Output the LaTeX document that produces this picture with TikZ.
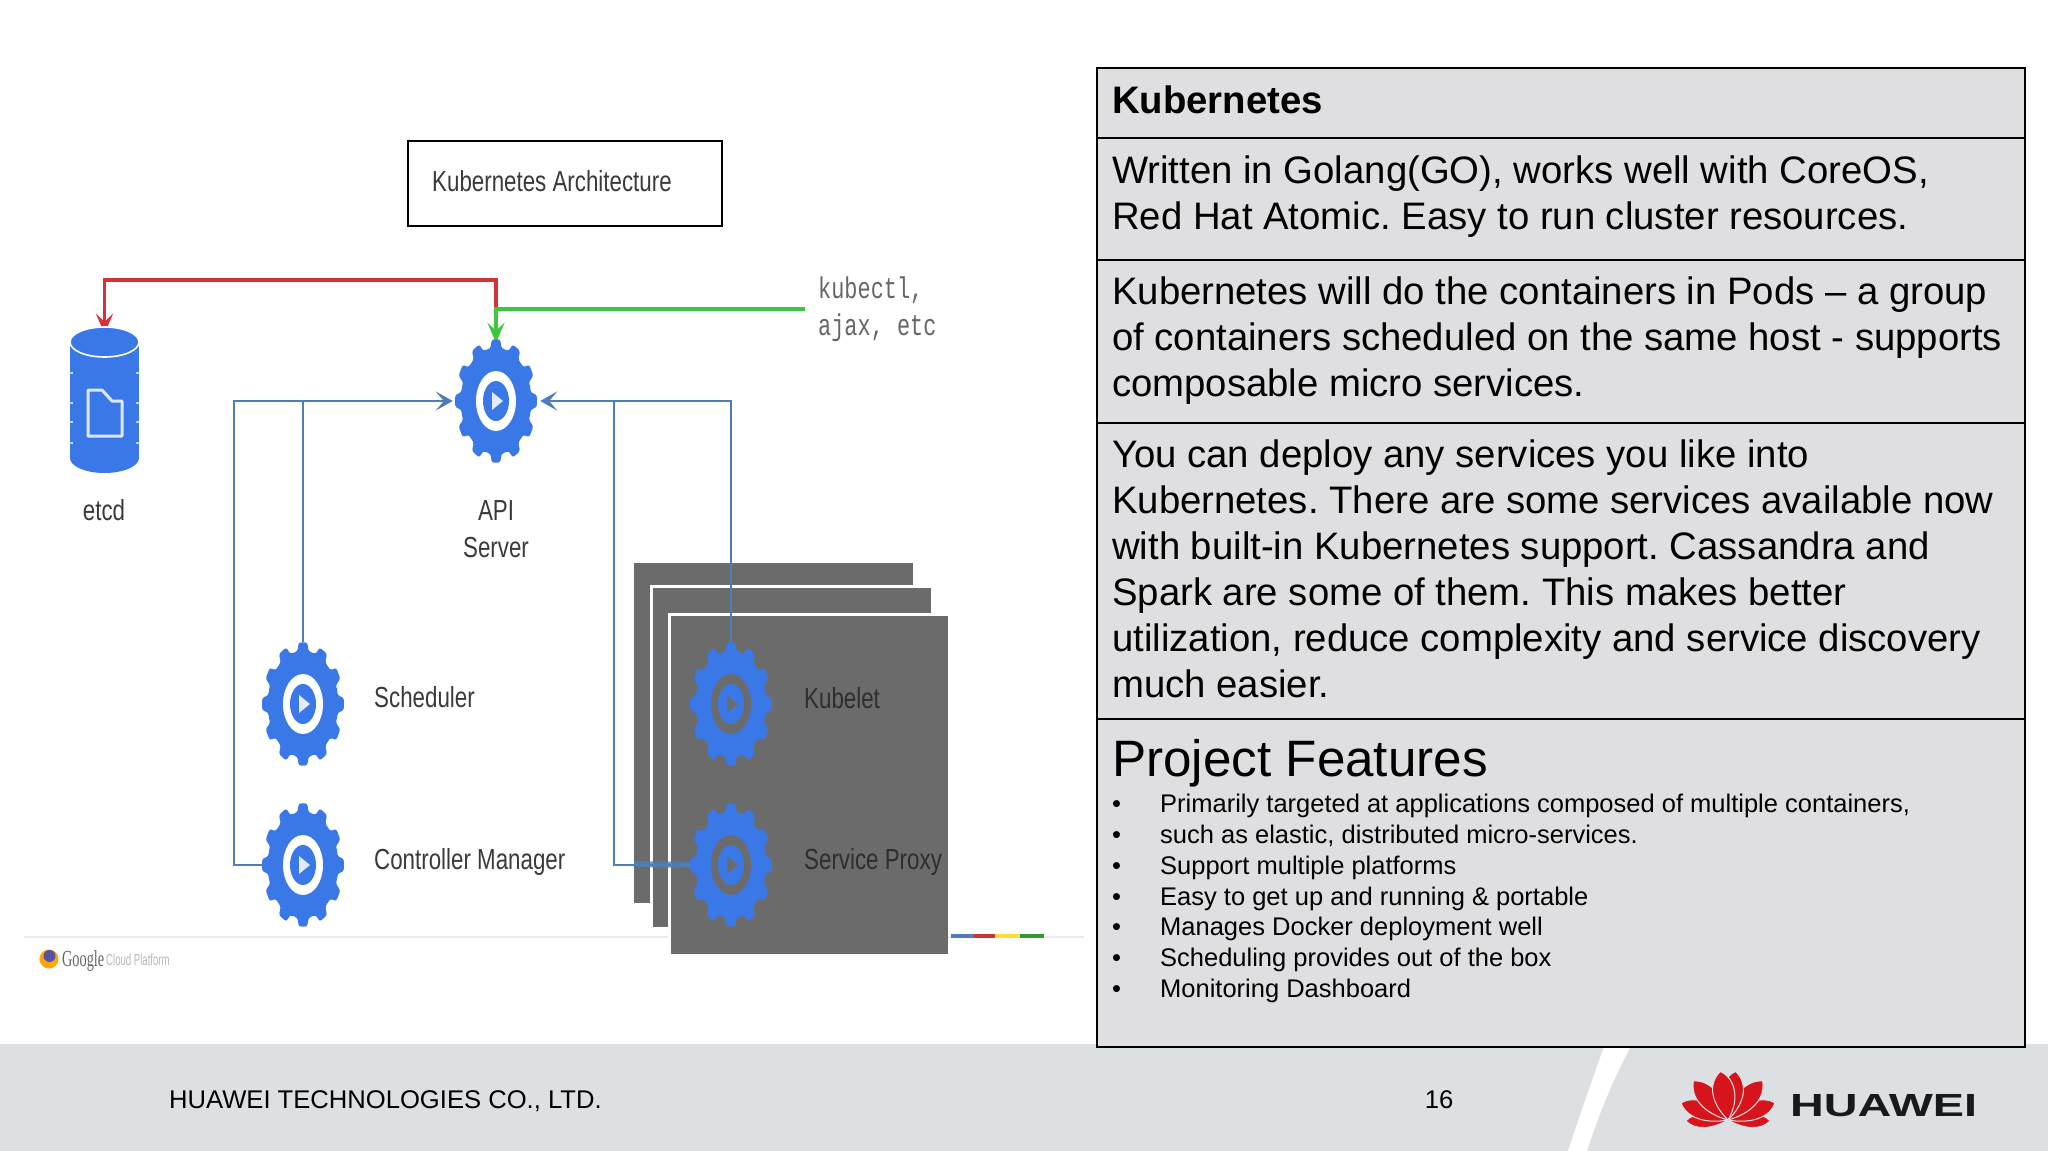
\documentclass[tikz,border=0pt]{standalone}
\usepackage{fontspec}
\usetikzlibrary{arrows.meta}
\setmainfont{Liberation Sans}
\newfontfamily\condfont[FakeStretch=0.77]{Liberation Sans}
\newfontfamily\monocond[FakeStretch=0.73]{Liberation Mono}
\newfontfamily\gserif[FakeStretch=0.62]{Liberation Serif}
\newfontfamily\gcond[FakeStretch=0.6]{Liberation Sans}
\newfontfamily\logofont[FakeStretch=1.46]{Liberation Sans}
\definecolor{gearblue}{HTML}{3B78E7}
\definecolor{linkblue}{HTML}{4E7DB8}
\definecolor{linkred}{HTML}{D5323C}
\definecolor{linkgreen}{HTML}{3CC83C}
\definecolor{boxgrey}{HTML}{6B6B6B}
\definecolor{cellgrey}{HTML}{DFDEE0}
\definecolor{footgrey}{HTML}{DDE0E2}
\definecolor{labelgrey}{HTML}{3A3A3A}
\definecolor{hwred}{HTML}{D5141C}
\tikzset{
  x=1pt,y=-1pt,
  cell/.style={draw=black,line width=2pt,fill=cellgrey,anchor=north west,inner sep=0pt},
  celltext/.style={anchor=north west,inner sep=0pt,align=left,text=black,font=\fontsize{38.3}{46}\selectfont\frenchspacing},
  archlabel/.style={anchor=base west,inner sep=0pt,text=labelgrey,font=\condfont\fontsize{29}{37}\selectfont},
  gearspot/.style={inner sep=0pt,minimum width=82pt,minimum height=124pt},
  flow/.style={line width=2.7pt,linkblue},
  flowtip/.style={-{Stealth[length=17pt,width=19pt,inset=8pt]}},
  stackbox/.style={draw=white,line width=3pt,fill=boxgrey,anchor=north west,inner sep=0pt},
  petalstyle/.style={fill=hwred,draw=footgrey,line width=1pt},
}
\newcommand{\geargraphic}[4]{% x, y, ring colour, triangle colour
  \begin{scope}[shift={(#1,#2)}]
    \fill[gearblue,rounded corners=2.5pt]
      ({41*0.86*cos(-15)},{62*0.86*sin(-15)})
      \foreach \t in {0,30,...,330} {
        -- ({41*0.86*cos(\t-9)},{62*0.86*sin(\t-9)})
        -- ({41*cos(\t-6)},{62*sin(\t-6)})
        -- ({41*cos(\t+6)},{62*sin(\t+6)})
        -- ({41*0.86*cos(\t+9)},{62*0.86*sin(\t+9)})
        -- ({41*0.86*cos(\t+15)},{62*0.86*sin(\t+15)})
      } -- cycle;
    \fill[#3] (0,0) ellipse[x radius=20,y radius=30];
    \fill[gearblue] (0,0) ellipse[x radius=13,y radius=20];
    \fill[#4] (-4,-9) -- (7,0) -- (-4,9) -- cycle;
  \end{scope}}
\newcommand{\petal}[4]{% angle, length, half width, side (+1 or -1)
  \path[petalstyle,rotate around={#1:(1728,1120)}]
    (1728,1120) .. controls ({1728-#4*#3},{1120-0.35*#2}) and ({1728-#4*#3},{1120-0.8*#2}) .. ({1728-#4*0.25*#3},{1120-#2})
    .. controls ({1728+#4*0.7*#3},{1120-0.8*#2}) and ({1728+#4*0.7*#3},{1120-0.4*#2}) .. (1728,1120) -- cycle;}
\begin{document}
\begin{tikzpicture}
\useasboundingbox (0,0) rectangle (2048,1151);
\fill[white] (0,0) rectangle (2048,1151);

% footer band
\fill[footgrey] (0,1044) rectangle (2048,1151);
\fill[white] (1605,1044) -- (1632,1044) .. controls (1610,1085) and (1597,1120) .. (1587,1151) -- (1568,1151) .. controls (1580,1115) and (1592,1080) .. (1605,1044) -- cycle;

% title box
\node[draw=black,line width=1.5pt,fill=white,anchor=north west,inner sep=0pt,minimum width=314pt,minimum height=85pt] (titlebox) at (407,140) {};
\node[archlabel] (titletext) at (432,191) {Kubernetes Architecture};

% stacked boxes
\node[stackbox,draw=none,minimum width=279pt,minimum height=340pt] (back) at (632,561) {};
\node[stackbox,minimum width=281pt,minimum height=342pt] (middle) at (650,585) {};
\node[stackbox,minimum width=280pt,minimum height=341pt] (front) at (668,613) {};

% anchor points of the diagram
\node[gearspot] (api) at (496,401) {};
\node[gearspot] (sched) at (303,704) {};
\node[gearspot] (ctrl) at (303,865) {};
\node[gearspot] (kubelet) at (731,704) {};
\node[gearspot] (proxy) at (731,865) {};
\node[inner sep=0pt,minimum width=69pt,minimum height=146pt] (etcd) at (104.5,400) {};
\coordinate (leftrail) at (234,401);
\coordinate (rightrail) at (614,401);
\coordinate (redcorner) at (496,280);
\coordinate (greenstart) at (805,309);

% connectors
\draw[flow,flowtip] (ctrl.west) -| (leftrail) -- ([xshift=-2pt]api.west);
\draw[flow] (sched.north) -- (sched.north |- api.west);
\draw[flow,flowtip] (proxy.west) -| (rightrail) -- ([xshift=3pt]api.east);
\draw[flow] (kubelet.north) -- (kubelet.north |- api.east) -- (rightrail);
\draw[line width=6pt,linkblue,opacity=.8] (634,864) -- ([xshift=8pt]proxy.west);
\draw[line width=3.6pt,linkred,-{Stealth[length=20pt,width=17pt,inset=8pt,fill=linkred!85!black]}] (496,312) -- (redcorner) -| ([yshift=-7pt]etcd.north);
\draw[line width=3.6pt,linkgreen,-{Stealth[length=20pt,width=17pt,inset=8pt]}] (greenstart) -| ([yshift=-4pt]api.north);

% etcd cylinder
\fill[gearblue] (70,342) rectangle (139,458);
\fill[gearblue] (104.5,458) ellipse[x radius=34.5,y radius=15];
\fill[gearblue,draw=white,line width=1.6pt] (104.5,342) ellipse[x radius=34.5,y radius=15];
\foreach \ty in {373,403,422,443} {
  \draw[white!70!gearblue,line width=1.2pt] (70,\ty) -- (73,\ty);
  \draw[white!70!gearblue,line width=1.2pt] (136,\ty) -- (139,\ty);
}
\draw[white!82!gearblue,line width=3pt,line join=round] (88,390) -- (102,390) -- (112,401) -- (122,401) -- (122,436) -- (88,436) -- cycle;

% gears
\geargraphic{496}{401}{white}{white!85!gearblue}
\geargraphic{303}{704}{white}{white!85!gearblue}
\geargraphic{303}{865}{white}{white!85!gearblue}
\geargraphic{731}{704}{boxgrey}{boxgrey}
\geargraphic{731}{865}{boxgrey}{boxgrey}

% diagram labels
\node[archlabel,anchor=base] (etcdlabel) at (104,520) {etcd};
\node[archlabel,anchor=base] (apilabel1) at (496,520) {API};
\node[archlabel,anchor=base] (apilabel2) at (496,557) {Server};
\node[archlabel] (schedlabel) at (374,707) {Scheduler};
\node[archlabel] (ctrllabel) at (374,869) {Controller Manager};
\node[archlabel,text=black!82] (kubeletlabel) at (804,708) {Kubelet};
\node[archlabel,text=black!82] (proxylabel) at (804,869) {Service Proxy};
\node[anchor=base west,inner sep=0pt,text=black!60,font=\monocond\fontsize{30}{37}\selectfont] (kubectl1) at (818,298) {kubectl,};
\node[anchor=base west,inner sep=0pt,text=black!60,font=\monocond\fontsize{30}{37}\selectfont] (kubectl2) at (818,335) {ajax, etc};

% ground line, Google strip
\draw[line width=2pt,black!8] (24,937) -- (668,937);
\draw[line width=2pt,black!8] (948,937) -- (1084,937);
\draw[line width=4pt,draw=linkblue] (951,936) -- (974,936);
\draw[line width=4pt,draw=red!60!gray] (974,936) -- (995,936);
\draw[line width=4pt,draw=yellow!75!orange!80!white] (995,936) -- (1020,936);
\draw[line width=4pt,draw=green!50!black!80!white] (1020,936) -- (1044,936);
\fill[orange!70!yellow] (49,959) circle[radius=9.5];
\fill[blue!35!gray] (49.5,956) circle[radius=6];
\node[anchor=base west,inner sep=0pt,text=black!60,font=\gserif\fontsize{23}{24}\selectfont] (glogo) at (62,966) {Google};
\node[anchor=base west,inner sep=0pt,text=black!28,font=\gcond\fontsize{16}{20}\selectfont] (gcloud) at (106,965) {Cloud Platform};

% table
\node[cell,minimum width=928pt,minimum height=70pt] (row1) at (1096,67) {};
\node[cell,minimum width=928pt,minimum height=122pt] (row2) at (1096,137) {};
\node[cell,minimum width=928pt,minimum height=163pt] (row3) at (1096,259) {};
\node[cell,minimum width=928pt,minimum height=296pt] (row4) at (1096,422) {};
\node[cell,minimum width=928pt,minimum height=328pt] (row5) at (1096,718) {};
\node[celltext,font=\bfseries\fontsize{38.3}{46}\selectfont] (t1) at (1112,86) {Kubernetes};
\node[celltext] (t2) at (1112,156) {Written in Golang(GO), works well with CoreOS,\\Red Hat Atomic. Easy to run cluster resources.};
\node[celltext] (t3) at (1112,277) {Kubernetes will do the containers in Pods – a group\\of containers scheduled on the same host - supports\\composable micro services.};
\node[celltext] (t4) at (1112,440) {You can deploy any services you like into\\Kubernetes. There are some services available now\\with built-in Kubernetes support. Cassandra and\\Spark are some of them. This makes better\\utilization, reduce complexity and service discovery\\much easier.};
\node[celltext,font=\fontsize{51.2}{58}\selectfont] (t5) at (1112,739) {Project Features};
\node[celltext,font=\fontsize{25.5}{30.8}\selectfont] (t6) at (1112,794) {%
\makebox[48pt][l]{•}Primarily targeted at applications composed of multiple containers,\\
\makebox[48pt][l]{•}such as elastic, distributed micro-services.\\
\makebox[48pt][l]{•}Support multiple platforms\\
\makebox[48pt][l]{•}Easy to get up and running \& portable\\
\makebox[48pt][l]{•}Manages Docker deployment well\\
\makebox[48pt][l]{•}Scheduling provides out of the box\\
\makebox[48pt][l]{•}Monitoring Dashboard};

% footer text
\node[anchor=base west,inner sep=0pt,font=\fontsize{25.6}{30}\selectfont] (company) at (169,1108) {HUAWEI TECHNOLOGIES CO., LTD.};
\node[anchor=base,inner sep=0pt,font=\fontsize{25.6}{30}\selectfont] (pageno) at (1439,1108) {16};

% Huawei logo
\petal{-95}{42}{11}{1}\petal{-74}{50}{14}{1}\petal{-46}{52}{16}{1}\petal{-14}{49}{17}{1}
\petal{95}{42}{11}{-1}\petal{74}{50}{14}{-1}\petal{46}{52}{16}{-1}\petal{14}{49}{17}{-1}
\node[anchor=base west,inner sep=0pt,text=black!90,font=\logofont\bfseries\fontsize{32}{34}\selectfont] (hwtext) at (1790,1116) {HUAWEI};
\end{tikzpicture}
\end{document}
